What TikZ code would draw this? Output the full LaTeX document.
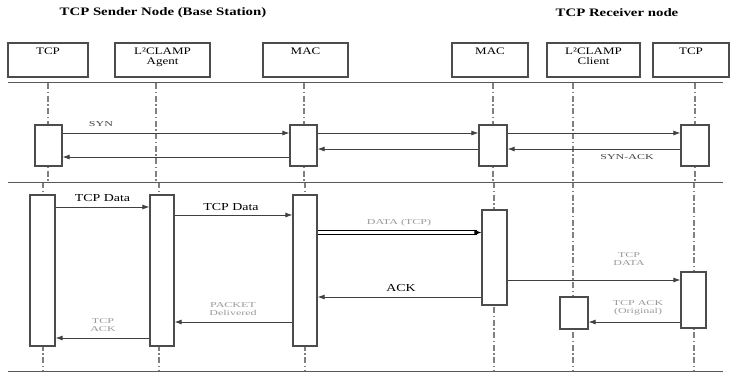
\documentclass[tikz,border=0pt]{standalone}
\usepackage{fontspec}
\setmainfont[FakeStretch=1.3]{Liberation Serif}
\newfontfamily\smallwide[FakeStretch=1.6]{Liberation Serif}
\usetikzlibrary{arrows.meta}
\tikzset{
  hbox/.style={draw=black!70, line width=1.2pt, fill=white, inner sep=0pt, minimum height=34pt},
  hlbl/.style={font=\fontsize{10}{10}\selectfont, align=center, anchor=north, inner sep=0pt},
  act/.style={draw=black!70, line width=1.2pt, fill=white, inner sep=0pt},
  life/.style={draw=black!50, line width=1.5pt, dash pattern=on 6pt off 2.5pt on 1.5pt off 2.5pt},
  sepline/.style={draw=black!65, line width=0.9pt},
  msg/.style={draw=black!75, line width=0.8pt, -{Latex[length=7pt,width=5pt]}},
  dline/.style={draw=black, line width=0.7pt},
  title/.style={font=\fontsize{11.4}{12}\selectfont\bfseries, inner sep=0pt},
  blbl/.style={font=\fontsize{10.7}{11}\selectfont, inner sep=0pt},
  slbl/.style={font=\smallwide\fontsize{7.5}{8}\selectfont, text=black!75, inner sep=0pt},
  glbl/.style={font=\smallwide\fontsize{7.5}{8}\selectfont, text=black!40, align=center, inner sep=0pt},
}
\begin{document}
\begin{tikzpicture}[x=1pt,y=-1pt]
\useasboundingbox (0,0) rectangle (730,373);

% titles
\node[title] (tsend) at (163,12.5) {TCP Sender Node (Base Station)};
\node[title] (trecv) at (617,12.5) {TCP Receiver node};

% lifelines
\foreach \i/\xa/\xb in {1/48/43, 2/156/159, 3/304/305, 4/493/494, 5/573/573, 6/695/694} {
  \coordinate (p\i a) at (\xa,83);
  \coordinate (p\i b) at (\xa,182);
  \coordinate (p\i c) at (\xb,182);
  \coordinate (p\i d) at (\xb,370);
  \draw[life] (p\i a) -- (p\i b);
  \draw[life] (p\i c) -- (p\i d);
}

% separators
\coordinate (s1l) at (8,82);  \coordinate (s1r) at (723,82);
\coordinate (s2l) at (8,182); \coordinate (s2r) at (723,182);
\coordinate (s3l) at (8,371); \coordinate (s3r) at (723,371);
\draw[sepline] (s1l) -- (s1r);
\draw[sepline] (s2l) -- (s2r);
\draw[sepline] (s3l) -- (s3r);

% header boxes
\node[hbox, minimum width=80pt] (h1) at (48,60) {};
\node[hbox, minimum width=95pt] (h2) at (162.5,60) {};
\node[hbox, minimum width=85pt] (h3) at (305.5,60) {};
\node[hbox, minimum width=76pt] (h4) at (490,60) {};
\node[hbox, minimum width=93pt] (h5) at (593.5,60) {};
\node[hbox, minimum width=76pt] (h6) at (691,60) {};
\node[hlbl] (h1t) at ([yshift=-5pt]h1.north) {TCP};
\node[hlbl] (h2t) at ([yshift=-5pt]h2.north) {L²CLAMP\\Agent};
\node[hlbl] (h3t) at ([yshift=-5pt]h3.north) {MAC};
\node[hlbl] (h4t) at ([yshift=-5pt]h4.north) {MAC};
\node[hlbl] (h5t) at ([yshift=-5pt]h5.north) {L²CLAMP\\Client};
\node[hlbl] (h6t) at ([yshift=-5pt]h6.north) {TCP};

% activation boxes, section 1
\node[act, minimum width=27pt, minimum height=41pt] (a1) at (48.5,145.5) {};
\node[act, minimum width=27pt, minimum height=41pt] (a3) at (303.5,145.5) {};
\node[act, minimum width=28pt, minimum height=41pt] (a4) at (493,145.5) {};
\node[act, minimum width=28pt, minimum height=41pt] (a6) at (695,145.5) {};

% activation boxes, section 2
\node[act, minimum width=25pt, minimum height=151pt] (b1) at (42.5,270.5) {};
\node[act, minimum width=24pt, minimum height=151pt] (b2) at (162,270.5) {};
\node[act, minimum width=24pt, minimum height=151pt] (b3) at (305,270.5) {};
\node[act, minimum width=25pt, minimum height=95pt] (b4) at (494.5,257.5) {};
\node[act, minimum width=28pt, minimum height=32pt] (b5) at (574,313) {};
\node[act, minimum width=25pt, minimum height=56pt] (b6) at (693.5,300) {};

% section 1 messages
\draw[msg] (a1.east |- 0,133) -- (a3.west |- 0,133);
\draw[msg] (a3.east |- 0,133) -- (a4.west |- 0,133);
\draw[msg] (a4.east |- 0,133) -- (a6.west |- 0,133);
\draw[msg] (a6.west |- 0,149) -- (a4.east |- 0,149);
\draw[msg] (a4.west |- 0,149) -- (a3.east |- 0,149);
\draw[msg] (a3.west |- 0,157) -- (a1.east |- 0,157);
\node[slbl] (lsyn) at (101,124) {SYN};
\node[slbl] (lsynack) at (627,157) {SYN-ACK};

% section 2 messages
\draw[dline] (b3.east |- 0,230.8) -- ([xshift=-4pt]b4.west |- 0,230.8);
\draw[dline] (b3.east |- 0,234.2) -- ([xshift=-4pt]b4.west |- 0,234.2);
\draw[dline, -{Latex[length=7pt,width=5.5pt]}] ([xshift=-6pt]b4.west |- 0,232.5) -- (b4.west |- 0,232.5);
\draw[msg] (b4.west |- 0,297) -- (b3.east |- 0,297);
\draw[msg] (b4.east |- 0,280) -- (b6.west |- 0,280);
\draw[msg] (b6.west |- 0,322) -- (b5.east |- 0,322);
\draw[msg] (b3.west |- 0,322) -- (b2.east |- 0,322);
\draw[msg] (b2.west |- 0,338) -- (b1.east |- 0,338);
\draw[msg] (b1.east |- 0,207) -- (b2.west |- 0,207);
\draw[msg] (b2.east |- 0,215) -- (b3.west |- 0,215);

\node[blbl] (ltd1) at (102.5,198) {TCP Data};
\node[blbl] (ltd2) at (231,207) {TCP Data};
\node[blbl] (lack) at (401,288) {ACK};
\node[glbl] (ldata) at (399,223) {DATA (TCP)};
\node[glbl] (ltcpdata) at (629,259) {TCP\\DATA};
\node[glbl] (ltcpack) at (638,308) {TCP ACK\\(Original)};
\node[glbl] (lpkt) at (233,309) {PACKET\\Delivered};
\node[glbl] (ltcpack2) at (103,325.5) {TCP\\ACK};
\end{tikzpicture}
\end{document}
